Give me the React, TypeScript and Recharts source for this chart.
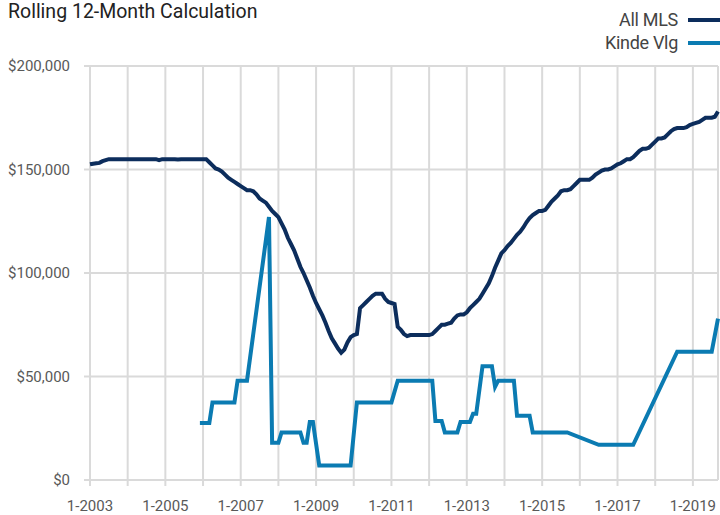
import React from "react"
import { LineChart, Line, XAxis, YAxis, CartesianGrid } from "recharts"

// monthly values, Jan 2003 .. Sep 2019
const allMls = [
  // 2003
  152500, 152800, 153000, 153200, 154000, 154500, 155000, 155000, 155000, 155000, 155000, 155000,
  // 2004
  155000, 155000, 155000, 155000, 155000, 155000, 155000, 155000, 155000, 155000, 154500, 155000,
  // 2005
  155000, 155000, 155000, 155000, 154800, 155000, 155000, 155000, 155000, 155000, 155000, 155000,
  // 2006
  155000, 155000, 153500, 152000, 150500, 150000, 149000, 147500, 146000, 145000, 144000, 143000,
  // 2007
  142000, 141000, 140000, 140000, 139500, 138000, 136000, 135000, 134000, 132000, 130000, 128500,
  // 2008
  127000, 124000, 121000, 117000, 114000, 111000, 107000, 103000, 100000, 96500, 93000, 89000,
  // 2009
  85500, 82500, 79500, 76000, 72000, 68500, 66000, 63500, 61500, 63000, 66500, 69000,
  // 2010
  70000, 70500, 83000, 84500, 86000, 87500, 89000, 90000, 90000, 90000, 87500, 86000,
  // 2011
  85500, 85000, 74000, 72500, 70500, 69500, 70000, 70000, 70000, 70000, 70000, 70000,
  // 2012
  70000, 70500, 72000, 73500, 75000, 75000, 75500, 76000, 78000, 79500, 80000, 80000,
  // 2013
  81000, 83000, 84500, 86000, 87500, 90000, 92500, 95000, 98500, 102500, 106000, 109500,
  // 2014
  111000, 113000, 114500, 116500, 118500, 120000, 122000, 124500, 126500, 128000, 129000, 130000,
  // 2015
  130000, 130500, 132500, 134500, 136000, 137500, 139500, 140000, 140000, 140500, 142000, 143500,
  // 2016
  145000, 145000, 145000, 145000, 146000, 147500, 148500, 149500, 150000, 150000, 150500, 151500,
  // 2017
  152500, 153000, 154000, 155000, 155000, 156000, 157500, 159000, 160000, 160000, 160500, 162000,
  // 2018
  163500, 165000, 165000, 165500, 167000, 168500, 169500, 170000, 170000, 170000, 170500, 171500,
  // 2019
  172000, 172500, 173000, 174000, 175000, 175000, 175000, 175500, 178000,
]

const n = null
const kindeVlg = [
  // 2003
  n, n, n, n, n, n, n, n, n, n, n, n,
  // 2004
  n, n, n, n, n, n, n, n, n, n, n, n,
  // 2005
  n, n, n, n, n, n, n, n, n, n, n, 27500,
  // 2006
  27500, 27500, 27500, 37500, 37500, 37500, 37500, 37500, 37500, 37500, 37500, 48000,
  // 2007
  48000, 48000, 48000, n, n, n, n, n, n, 127000, 18000, 18000,
  // 2008
  18000, 23000, 23000, 23000, 23000, 23000, 23000, 23000, 18000, 18000, 28000, 28000,
  // 2009
  n, 7000, 7000, 7000, 7000, 7000, 7000, 7000, 7000, 7000, 7000, 7000,
  // 2010
  n, 37500, 37500, 37500, 37500, 37500, 37500, 37500, 37500, 37500, 37500, 37500,
  // 2011
  37500, n, 48000, 48000, 48000, 48000, 48000, 48000, 48000, 48000, 48000, 48000,
  // 2012
  48000, 48000, 28500, 28500, 28500, 23000, 23000, 23000, 23000, 23000, 28000, 28000,
  // 2013
  28000, 28000, 32000, 32000, n, 55000, 55000, 55000, 55000, 45000, 48000, 48000,
  // 2014
  48000, 48000, 48000, 48000, 31000, 31000, 31000, 31000, 31000, 23000, 23000, 23000,
  // 2015
  23000, 23000, 23000, 23000, 23000, 23000, 23000, 23000, 23000, n, n, n,
  // 2016
  n, n, n, n, n, n, 17000, 17000, 17000, 17000, 17000, 17000,
  // 2017
  17000, 17000, 17000, 17000, 17000, 17000, n, n, n, n, n, n,
  // 2018
  n, n, n, n, n, n, n, 62000, 62000, 62000, 62000, 62000,
  // 2019
  62000, 62000, 62000, 62000, 62000, 62000, 62000, n, 78000,
]

const yearTicks = [
  "1-2003", "1-2004", "1-2005", "1-2006", "1-2007", "1-2008", "1-2009", "1-2010", "1-2011",
  "1-2012", "1-2013", "1-2014", "1-2015", "1-2016", "1-2017", "1-2018", "1-2019",
]
const valueTicks = [0, 50000, 100000, 150000, 200000]

const months = allMls.map((_, i) => `${(i % 12) + 1}-${2003 + Math.floor(i / 12)}`)
const rows = months.map((month, i) => ({ month, allMls: allMls[i], kindeVlg: kindeVlg[i] }))

const FONT = "Roboto, 'Liberation Sans', sans-serif"
const NAVY = "#0c2d5c"
const BLUE = "#0b7bb2"
const GRID = "#dadada"

const formatMoney = (v: number) => "$" + v.toLocaleString("en-US")
const formatYear = (v: string) => (Number(v.split("-")[1]) % 2 === 1 ? v : "")

export default function App() {
  const legendItem = (label: string, color: string, top: number) => (
    <div style={{ position: "absolute", top, right: 0, display: "flex", alignItems: "center" }}>
      <span style={{ fontSize: 18, color: "#444", letterSpacing: -0.3 }}>{label}</span>
      <span style={{ display: "inline-block", width: 32, height: 4, background: color, marginLeft: 10 }} />
    </div>
  )

  return (
    <div style={{ position: "absolute", left: 0, top: 0, width: 720, height: 515, fontFamily: FONT, background: "#fff" }}>
      <div style={{ position: "absolute", left: 8, top: 0, fontSize: 19.5, color: "#222" }}>
        Rolling 12-Month Calculation
      </div>
      {legendItem("All MLS", NAVY, 9)}
      {legendItem("Kinde Vlg", BLUE, 32)}
      <LineChart width={720} height={515} data={rows} margin={{ top: 66, right: 2, bottom: 0, left: 0 }}>
        <CartesianGrid stroke={GRID} strokeWidth={2} />
        <XAxis
          dataKey="month"
          ticks={yearTicks}
          interval={0}
          tickFormatter={formatYear}
          axisLine={false}
          tickLine={{ stroke: GRID, strokeWidth: 2 }}
          tickSize={6}
          tickMargin={14}
          height={35}
          tick={{ fill: "#595959", fontSize: 15, fontFamily: FONT }}
        />
        <YAxis
          domain={[0, 200000]}
          ticks={valueTicks}
          tickFormatter={formatMoney}
          axisLine={false}
          tickLine={{ stroke: GRID, strokeWidth: 2 }}
          tickSize={6}
          tickMargin={14}
          width={90}
          tick={{ fill: "#595959", fontSize: 15, fontFamily: FONT }}
        />
        <Line
          type="linear"
          dataKey="allMls"
          stroke={NAVY}
          strokeWidth={4}
          dot={false}
          connectNulls
          isAnimationActive={false}
        />
        <Line
          type="linear"
          dataKey="kindeVlg"
          stroke={BLUE}
          strokeWidth={4}
          dot={false}
          connectNulls
          isAnimationActive={false}
        />
      </LineChart>
    </div>
  )
}
